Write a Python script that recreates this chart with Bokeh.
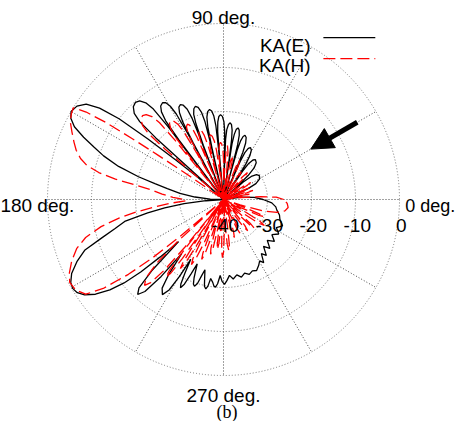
import numpy as np
from bokeh.plotting import figure
from bokeh.models import Range1d, Arrow, NormalHead
from bokeh.core.properties import value
from bokeh.embed import file_html
from bokeh.resources import INLINE

# ---------------- data (angle in degrees, level in dB) ----------------
ka_e = [
    (0, -31), (4, -33), (8, -36), (12, -40),
    (22, -40), (22.6, -39.2), (23.8, -34.0), (26.1, -31.8), (29.6, -30.6), (33.7, -30.2),
    (37.0, -30.6), (39.7, -31.8), (41.6, -34.0), (42.5, -39.2), (43, -40),
    (43.4, -37.4), (44.2, -32.2), (45.9, -30.0), (48.4, -28.8), (51.3, -28.4),
    (53.3, -28.8), (55.0, -30.0), (56.1, -32.2), (56.7, -37.4), (57, -40),
    (57.3, -35.7), (57.8, -30.5), (59.0, -28.3), (60.6, -27.1), (62.6, -26.7),
    (64.1, -27.1), (65.5, -28.3), (66.3, -30.5), (66.8, -35.7), (67, -40),
    (67.2, -33.6), (67.7, -28.4), (68.6, -26.2), (69.9, -25.0), (71.5, -24.6),
    (72.7, -25.0), (73.8, -26.2), (74.5, -28.4), (74.8, -33.6), (75, -40),
    (75.2, -32.4), (75.5, -27.2), (76.2, -25.0), (77.3, -23.8), (78.5, -23.4),
    (79.7, -23.8), (80.6, -25.0), (81.3, -27.2), (81.6, -32.4), (81.8, -40),
    (82.0, -31.5), (82.3, -26.3), (82.9, -24.1), (83.9, -22.9), (85, -22.5),
    (86.2, -22.9), (87.3, -24.1), (88.0, -26.3), (88.3, -31.5), (88.5, -40),
    (88.7, -29.7), (89.0, -24.5), (89.7, -22.3), (90.8, -21.1), (92, -20.7),
    (93.2, -21.1), (94.2, -22.3), (94.9, -24.5), (95.2, -29.7), (95.4, -40),
    (95.6, -28.3), (95.9, -23.1), (96.6, -20.9), (97.6, -19.7), (98.8, -19.3),
    (100.2, -19.7), (101.4, -20.9), (102.2, -23.1), (102.6, -28.3), (102.8, -40),
    (103.0, -26.9), (103.4, -21.7), (104.2, -19.5), (105.4, -18.3), (106.8, -17.9),
    (108.1, -18.3), (109.3, -19.5), (110.0, -21.7), (110.4, -26.9), (110.6, -40),
    (110.8, -25.3), (111.2, -20.1), (111.9, -17.9), (113.1, -16.7), (114.4, -16.3),
    (115.8, -16.7), (116.9, -17.9), (117.7, -20.1), (118.1, -25.3), (118.3, -40),
    (118.5, -23.0), (118.9, -17.8), (119.7, -15.6), (120.8, -14.4), (122.2, -14.0),
    (123.9, -14.4), (125.3, -15.6), (126.3, -17.8), (126.8, -23.0), (127, -40),
    (127.3, -19.2), (127.8, -14.0), (128.8, -11.8), (130.4, -10.6), (132.2, -10.2),
    (134.2, -10.6), (136.0, -11.8), (137.1, -14.0), (137.7, -19.2), (138, -40),
    (139.2, -32), (140.3, -26), (141.3, -18), (142.3, -10), (143.6, -5), (145.2, -2), (147.5, -0.5), (150, 0),
    (152, -0.7), (154, -2.3), (156, -5.2), (158, -8.3), (160, -11), (162.5, -15), (165, -20), (167, -24),
    (169, -27), (172, -30), (175, -33.5), (178, -37), (181, -40),
    (182, -40), (184, -36), (186, -31), (188, -26.5), (190, -22.5), (192.5, -17), (195, -14.5), (197.5, -11),
    (200, -6.5), (203, -3.8), (206, -1.6), (208.5, -0.5), (210.5, -0.2), (212.5, -0.6), (214.5, -1.7),
    (216.5, -3.8), (218.5, -7), (220, -10.5), (221.2, -15), (222.2, -20.5), (223.2, -26),
    (224.8, -17), (226.3, -12.2), (227.9, -10.9), (229.5, -12.5), (231, -17.5), (232.3, -24.5),
    (233.8, -19), (235.3, -15.5), (237.3, -14.3), (239, -16), (240.3, -20), (241.3, -24.5),
    (242.4, -21), (243.2, -18.5), (244, -17.7), (245.2, -18.8), (246.4, -21.5), (247.8, -24.2),
    (249.4, -21), (250.4, -19.6), (251.5, -19.2), (252.8, -20), (254, -22), (255.2, -23.5),
    (256.6, -21.5), (257.6, -19.8), (258.8, -19.3), (259.8, -20), (260.8, -21.8),
    (262.6, -21), (263.7, -20.2), (264.8, -20), (266, -20.8), (267.5, -22.7),
    (269, -21.4), (270.7, -20.7), (272.5, -21.6), (274.5, -22.7),
    (277, -21.8), (280, -22.6), (283, -21.9), (286, -22.6), (289, -22), (292, -22.5), (295, -22.2), (298, -23),
    (300.5, -23.8), (302.5, -23), (305, -25), (307.5, -24), (310.5, -26), (313.5, -24.7), (317, -26.4),
    (320.5, -25), (324, -26.4), (328, -25.2), (332, -26.4), (336, -25.3), (340.5, -26.4), (344.5, -26.8),
    (348.5, -27.6), (352, -28), (356, -29), (360, -31),
]

ka_h = [
    (0, -26.3), (2.5, -28), (4.5, -31.5), (6.5, -36), (8, -40),
    (9.5, -40), (10.5, -35.5), (11.5, -34), (12.5, -35.5), (13.5, -40),
    (15, -40), (16, -34.5), (17, -33), (18, -34.5), (19, -40),
    (21, -40), (22.5, -35), (24, -33.5), (25.5, -35), (27, -40),
    (29, -40), (30.5, -34.2), (32, -32.7), (33.7, -34.2), (35.5, -40),
    (37.5, -40), (38.8, -36.3), (40, -35), (41.2, -36.3), (42.5, -40),
    (45, -40), (46.5, -33.5), (48.4, -31.8), (50.2, -33.5), (52, -40),
    (54.5, -40), (56, -34), (57.5, -32.5), (59, -34), (60.5, -40),
    (64, -40), (65, -36), (66.2, -32), (67.7, -30.4), (69.2, -32), (70.5, -36), (71.5, -40),
    (75, -40), (76, -35.5), (77.1, -31.3), (78.4, -29.8), (79.7, -31.3), (81, -35.5), (82, -40),
    (82.5, -40), (83.4, -34), (84.6, -29.2), (85.8, -27.7), (87, -29.2), (88.1, -34), (89, -40),
    (89.5, -40), (89.7, -36), (90.0, -30.8), (90.7, -28.6), (91.8, -27.4), (93, -27),
    (94.2, -27.4), (95.3, -28.6), (96.0, -30.8), (96.3, -36), (96.5, -40),
    (97.5, -40), (97.7, -34), (98.1, -28.8), (98.9, -26.6), (100.1, -25.4), (101.5, -25),
    (102.7, -25.4), (103.8, -26.6), (104.5, -28.8), (104.8, -34), (105, -40),
    (105.5, -40), (105.7, -32.2), (106.0, -27), (106.7, -24.8), (107.7, -23.6), (108.9, -23.2),
    (110.1, -23.6), (111.1, -24.8), (111.8, -27), (112.1, -32.2), (112.3, -40),
    (112.5, -40), (112.7, -30), (113.0, -24.8), (113.6, -22.6), (114.5, -21.4), (115.6, -21),
    (116.9, -21.4), (118.0, -22.6), (118.7, -24.8), (119.1, -30), (119.3, -40),
    (119.8, -40), (120.0, -27.4), (120.4, -22.2), (121.2, -20), (122.5, -18.8), (123.9, -18.4),
    (125.4, -18.8), (126.8, -20), (127.6, -22.2), (128.1, -27.4), (128.3, -40),
    (129, -40), (129.3, -22.5), (129.8, -17.3), (130.8, -15.1), (132.3, -13.9), (134, -13.5),
    (135.9, -13.9), (137.6, -15.1), (138.7, -17.3), (139.2, -22.5), (139.5, -40),
    (144.5, -40), (145.3, -30), (145.9, -22), (146.3, -15), (146.8, -8), (147.5, -3), (148.6, 0), (150.5, -0.3),
    (153, -0.9), (156, -2.3), (159, -3.6), (161.5, -4.7), (164, -6.2), (166, -8), (167.8, -11), (169.3, -15),
    (170.8, -20), (172.5, -23.5), (175, -26), (177.5, -28.5), (180, -31), (182, -31.5), (184, -28), (186.4, -23.8),
    (188.3, -19.5), (190, -16), (192.5, -11.5), (195.4, -7.5), (198.5, -4.8), (202, -2.8), (205.5, -1.2),
    (208.3, -0.3), (211.5, -0.6), (214.5, -2), (216.5, -6), (218.2, -12.5), (219.4, -19), (220.4, -27), (221.5, -40),
    (222.4, -26.1), (223.6, -19.2), (225.3, -14.9), (227.4, -13.5), (228.8, -14.9), (230.1, -19.2), (231, -26.1), (231.5, -40),
    (231.8, -30.6), (232.2, -23.7), (232.8, -19.4), (233.5, -18), (234.4, -19.4), (235.1, -23.7), (235.6, -30.6), (236, -40),
    (236.3, -34.1), (236.7, -27.2), (237.3, -22.9), (238, -21.5), (238.9, -22.9), (239.6, -27.2), (240.1, -34.1), (240.5, -40),
    (241, -36.1), (241.7, -29.2), (242.6, -24.9), (243.8, -23.5), (244.9, -24.9), (245.9, -29.2), (246.5, -36.1), (247, -40),
    (247.5, -38.1), (248.1, -31.2), (249, -26.9), (250, -25.5), (251.2, -26.9), (252.1, -31.2), (252.8, -38.1), (253.3, -40),
    (254.5, -32.9), (255.5, -28.6), (256.7, -27.2), (257.9, -28.6), (258.8, -32.9), (260, -40),
    (261, -34.2), (262, -29.9), (263, -28.5), (264, -29.9), (265, -34.2), (266, -40),
    (267, -32.5), (268, -28.2), (269, -26.8), (270.2, -28.2), (271.3, -32.5), (272.5, -40),
    (273.7, -34), (274.8, -29.7), (276, -28.3), (277.4, -29.7), (278.6, -34), (280, -40),
    (282, -40), (283.4, -36.7), (284.6, -32.4), (286, -31), (287.4, -32.4), (288.6, -36.7), (290, -40),
    (292, -40), (293.4, -37.2), (294.6, -32.9), (296, -31.5), (297.4, -32.9), (298.6, -37.2), (300, -40),
    (302.5, -40), (304.3, -36.7), (305.9, -32.4), (307.7, -31), (309.4, -32.4), (310.8, -36.7), (312, -40),
    (313.5, -40), (314.7, -36.2), (315.8, -31.9), (317, -30.5), (318.3, -31.9), (319.6, -36.2), (321, -40),
    (323, -40), (324.6, -34.7), (326, -30.4), (327.6, -29), (329.2, -30.4), (330.6, -34.7), (332, -40),
    (333.5, -40), (334.7, -35.7), (335.8, -31.4), (337, -30), (338.2, -31.4), (339.4, -35.7), (340.5, -40),
    (342, -36), (344, -30.5), (346.5, -27.5), (349.5, -25.8), (353, -25.2), (356.5, -25.5), (360, -26.3),
]

r_min, r_max = -40, 0
ring_values = [-30, -20, -10, 0]
ring_labels = ["-40", "-30", "-20", "-10", "0"]
spoke_angles = [0, 30, 60, 90, 120, 150, 180, 210, 240, 270, 300, 330]
angle_labels = ["0 deg.", "90 deg.", "180 deg.", "270 deg."]
series_names = ["KA(E)", "KA(H)"]
caption = "(b)"
arrow_angle = 30
arrow_from_db, arrow_to_db = -4.9, -17.1

# ---------------- helpers ----------------
def to_xy(pairs):
    a = np.radians([t for t, _ in pairs])
    r = np.clip(np.array([d for _, d in pairs], dtype=float) - r_min, 0, None)
    return r * np.cos(a), r * np.sin(a)

PX = 4.4  # pixels per dB
W, H = 455, 421
CX, CY = 223, 199  # center in frame pixels
p = figure(frame_width=W, frame_height=H,
           x_range=Range1d(-CX / PX, (W - CX) / PX),
           y_range=Range1d(-(H - CY) / PX, CY / PX),
           output_backend="svg", toolbar_location=None,
           x_axis_type=None, y_axis_type=None, min_border=0)
p.min_border_left = p.min_border_right = p.min_border_top = p.min_border_bottom = 0
p.outline_line_color = None
p.background_fill_color = "white"
p.border_fill_color = "white"

R = r_max - r_min
# grid
p.circle(x=[0] * len(ring_values), y=[0] * len(ring_values),
         radius=[v - r_min for v in ring_values],
         fill_color=None, line_color="#777777", line_width=1, line_dash="1 2")
sa = np.radians(spoke_angles)
p.segment(x0=[0] * len(sa), y0=[0] * len(sa), x1=R * np.cos(sa), y1=R * np.sin(sa),
          line_color="#444444", line_width=1, line_dash="1 2")

# curves
ex, ey = to_xy(ka_e)
hx, hy = to_xy(ka_h)
p.line(ex, ey, line_color="black", line_width=1.3)
p.line(hx, hy, line_color="#ff0000", line_width=1.3, line_dash="12 5")

font = value("Liberation Sans")
fs = "19px"

# radial tick labels
tick_r = [v - r_min for v in [-40] + ring_values]
p.text(x=[t + 0.4 for t in tick_r], y=[-5.9] * len(tick_r), text=ring_labels,
       text_align="center", text_baseline="alphabetic", text_font=font,
       text_font_size=fs, text_color="black")

# angle labels
p.text(x=[41.3], y=[-1.45], text=[angle_labels[0]], text_align="left",
       text_baseline="alphabetic", text_font=font, text_font_size="18px")
p.text(x=[0], y=[41.4], text=[angle_labels[1]], text_align="center",
       text_baseline="alphabetic", text_font=font, text_font_size=fs)
p.text(x=[-33.9], y=[-1.45], text=[angle_labels[2]], text_align="right",
       text_baseline="alphabetic", text_font=font, text_font_size=fs)
p.text(x=[0], y=[-44.5], text=[angle_labels[3]], text_align="center",
       text_baseline="alphabetic", text_font=font, text_font_size=fs)
p.text(x=[0.8], y=[-48.2], text=[caption], text_align="center",
       text_baseline="alphabetic", text_font=value("Liberation Serif"), text_font_size="18px")

# legend (label left of sample)
p.text(x=[19.8, 19.8], y=[35.05, 30.5], text=series_names, text_align="right",
       text_baseline="alphabetic", text_font=font, text_font_size=fs)
p.line([22.7, 34.5], [36.8, 36.8], line_color="black", line_width=1.3)
p.line([22.7, 34.5], [32.0, 32.0], line_color="#ff0000", line_width=1.3, line_dash="12 5")

# arrow
aa = np.radians(arrow_angle)
r0, r1 = arrow_from_db - r_min, arrow_to_db - r_min
p.add_layout(Arrow(end=NormalHead(size=22, fill_color="black", line_color="black"),
                   x_start=r0 * np.cos(aa), y_start=r0 * np.sin(aa),
                   x_end=r1 * np.cos(aa), y_end=r1 * np.sin(aa),
                   line_width=5, line_color="black"))

open("out.html", "w").write(file_html(p, INLINE))
